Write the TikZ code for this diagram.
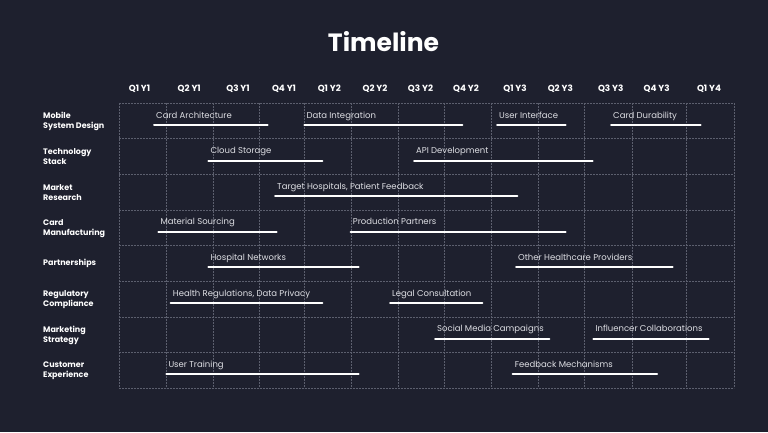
\documentclass[tikz,border=0pt]{standalone}
\usepackage{fontspec}
\setmainfont{Poppins}
\usetikzlibrary{positioning}
\definecolor{bgnavy}{RGB}{30,32,46}
\definecolor{gridgray}{RGB}{92,95,110}
\definecolor{tasktext}{RGB}{222,223,228}

\begin{document}
\begin{tikzpicture}[x=1pt, y=-1pt,
	title/.style={font=\bfseries\fontsize{25}{29}\selectfont, text=white},
	hdr/.style={font=\bfseries\fontsize{8.8}{10}\selectfont, text=white},
	lane/.style={font=\bfseries\fontsize{8}{10}\selectfont, text=white, align=left, anchor=west, inner sep=0pt},
	task/.style={font=\fontsize{8.5}{10}\selectfont, text=tasktext, anchor=base west, inner sep=0pt},
	bar/.style={white, line width=2pt, line cap=round},
	gridline/.style={gridgray, dash pattern=on 2pt off 1pt, line width=0.4pt}]
	% background and page size
	\fill[bgnavy] (0,0) rectangle (768,432);
	\useasboundingbox (0,0) rectangle (768,432);
	\node[title] (ttl) at (383.5,42) {Timeline};
	% grid
	\foreach \y in {103,138.6,174.3,209.9,245.5,281.1,316.8,352.4,388}
		\draw[gridline] (119,\y) -- (734,\y);
	\foreach \x in {119,165.7,212.7,259.3,304.3,351,397.7,444.3,491,537.7,584.3,631.7,685.7,734}
		\draw[gridline] (\x,103) -- (\x,388);
	% quarters
	\foreach \q/\x [count=\i] in {Q1 Y1/139.5, Q2 Y1/189.2, Q3 Y1/238, Q4 Y1/284, Q1 Y2/329.3, Q2 Y2/375, Q3 Y2/420.5, Q4 Y2/466, Q1 Y3/515, Q2 Y3/560.3, Q3 Y3/610.7, Q4 Y3/656.7, Q1 Y4/709}
		\node[hdr] (q\i) at (\x,89) {\q};
	% lanes
	\node[lane] (lane1) at (43,121.5) {Mobile\\System Design};
	\node[lane] (lane2) at (43,157) {Technology\\Stack};
	\node[lane] (lane3) at (43,192.6) {Market\\Research};
	\node[lane] (lane4) at (43,228.2) {Card\\Manufacturing};
	\node[lane] (lane5) at (43,263.4) {Partnerships};
	\node[lane] (lane6) at (43,299.4) {Regulatory\\Compliance};
	\node[lane] (lane7) at (43,335) {Marketing\\Strategy};
	\node[lane] (lane8) at (43,370.6) {Customer\\Experience};
	% tasks
	\foreach \n/\a/\b/\y/\t in {
		arch/154/267.7/125/Card Architecture,
		integ/304.3/462.3/125/Data Integration,
		ui/497/565.7/125/User Interface,
		dura/611/700.7/125/Card Durability,
		cloud/208.3/322.3/160.6/Cloud Storage,
		api/414/592.7/160.6/API Development,
		target/275/517.3/196.2/{Target Hospitals, Patient Feedback},
		material/158.3/276.7/231.8/Material Sourcing,
		prod/350.7/565.7/231.8/Production Partners,
		hospnet/208.3/358.7/267.4/Hospital Networks,
		other/516/672.7/267.4/Other Healthcare Providers,
		health/170.7/322.3/303/{Health Regulations, Data Privacy},
		legal/390/482.3/303/Legal Consultation,
		social/435/549.3/338.6/Social Media Campaigns,
		influ/593.3/708.7/338.6/Influencer Collaborations,
		training/166.3/358.7/374.2/User Training,
		feedback/512.7/657/374.2/Feedback Mechanisms}
	{
		\coordinate (\n-s) at (\a,\y);
		\coordinate (\n-e) at (\b,\y);
		\draw[bar] (\n-s) -- (\n-e);
		\node[task] (\n) at ([shift={(2,-7)}]\n-s) {\t};
	}
\end{tikzpicture}
\end{document}
